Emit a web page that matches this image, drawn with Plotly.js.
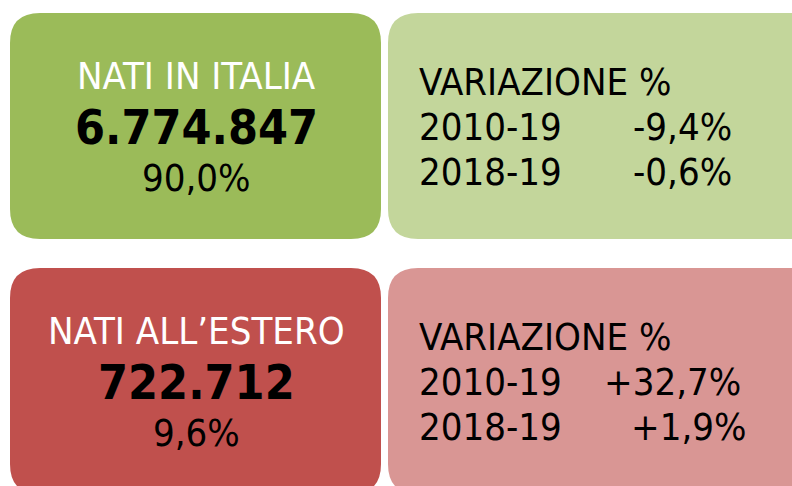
<!DOCTYPE html>
<html><head><meta charset="utf-8">
<script src="https://cdn.plot.ly/plotly-3.0.1.min.js"></script>
<style>html,body{margin:0;padding:0;background:#fff}#chart{width:792px;height:486px}</style>
</head><body><div id="chart"></div>
<script>
// Data
const groups = ["NATI IN ITALIA", "NATI ALL\u2019ESTERO"];
const totals = ["6.774.847", "722.712"];
const shares = ["90,0%", "9,6%"];
const periods = ["2010-19", "2018-19"];
const variations = [["-9,4%", "-0,6%"], ["+32,7%", "+1,9%"]];
const changeTitle = "VARIAZIONE %";

// Styling
const mainColors = ["#9BBB59", "#C0504D"];
const lightColors = ["#C3D69B", "#D99694"];
const FONT = "'DejaVu Sans Condensed', 'DejaVu Sans', sans-serif";
const FS = 38;

function rrect(x0, y0, x1, y1, r) {
  return `M${x0+r},${y0} L${x1-r},${y0} Q${x1},${y0} ${x1},${y0+r} L${x1},${y1-r} Q${x1},${y1} ${x1-r},${y1} L${x0+r},${y1} Q${x0},${y1} ${x0},${y1-r} L${x0},${y0+r} Q${x0},${y0} ${x0+r},${y0} Z`;
}

const rowTop = [13, 268];
const boxH = 226;
const shapes = [];
const annotations = [];
const valRight = [[734, 734], [743, 748]];

groups.forEach((g, i) => {
  const t = rowTop[i];
  shapes.push({type: "path", xref: "x", yref: "y", path: rrect(10, t, 381, t + boxH, 30),
    fillcolor: mainColors[i], line: {width: 0}, layer: "below"});
  shapes.push({type: "path", xref: "x", yref: "y", path: rrect(388, t, 830, t + boxH, 30),
    fillcolor: lightColors[i], line: {width: 0}, layer: "below"});
  annotations.push({x: 196, y: t + 63, text: g, showarrow: false, xanchor: "center", yanchor: "middle",
    font: {family: FONT, size: FS, color: "#FFFFFF"}});
  annotations.push({x: 196, y: t + 114, text: "<b>" + totals[i] + "</b>", showarrow: false, xanchor: "center", yanchor: "middle",
    font: {family: FONT, size: 48, color: "#000000"}});
  annotations.push({x: 196, y: t + 165, text: shares[i], showarrow: false, xanchor: "center", yanchor: "middle",
    font: {family: FONT, size: FS, color: "#000000"}});
  annotations.push({x: 417, y: t + 69, text: changeTitle, showarrow: false, xanchor: "left", yanchor: "middle",
    font: {family: FONT, size: FS, color: "#000000"}});
  periods.forEach((p, j) => {
    annotations.push({x: 417, y: t + 114 + 45 * j, text: p, showarrow: false, xanchor: "left", yanchor: "middle",
      font: {family: FONT, size: FS, color: "#000000"}});
    annotations.push({x: valRight[i][j], y: t + 114 + 45 * j, text: variations[i][j], showarrow: false, xanchor: "right", yanchor: "middle",
      font: {family: FONT, size: FS, color: "#000000"}});
  });
});

const layout = {
  width: 792, height: 486,
  margin: {l: 0, r: 0, t: 0, b: 0},
  paper_bgcolor: "#FFFFFF", plot_bgcolor: "#FFFFFF",
  xaxis: {range: [0, 792], visible: false, fixedrange: true},
  yaxis: {range: [486, 0], visible: false, fixedrange: true},
  shapes: shapes, annotations: annotations, showlegend: false
};
Plotly.newPlot("chart", [], layout, {displayModeBar: false, staticPlot: true});
</script></body></html>
